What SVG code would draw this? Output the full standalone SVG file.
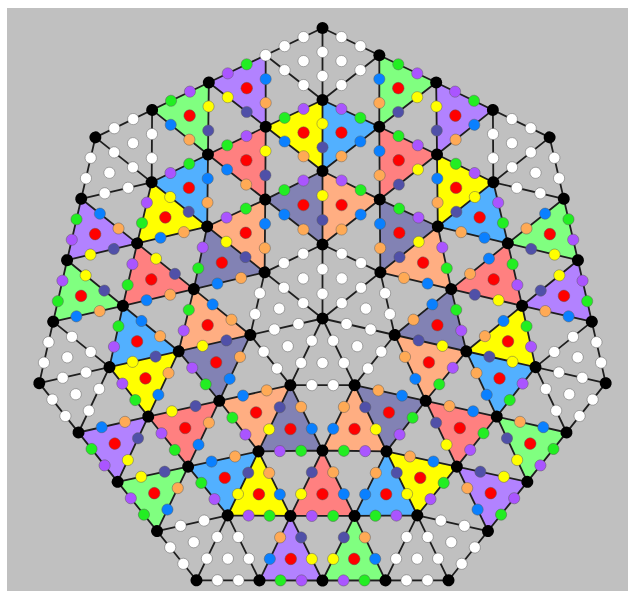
<svg xmlns="http://www.w3.org/2000/svg" width="635" height="597" viewBox="0 0 635 597">
<style>
.ln{fill:none;stroke:#1e1e1e;stroke-width:1.8;stroke-linejoin:round}
.v{fill:#000}
circle.d{stroke:#5a5a5a;stroke-opacity:0.55;stroke-width:0.8}
.dp{fill:#aa55ff}.dg{fill:#22ee22}.db{fill:#0a80ff}.do{fill:#ffaa55}.ds{fill:#5050a8}.dy{fill:#ffff00}.dr{fill:#ff0000}.dw{fill:#ffffff}
.tp{fill:#b282ff}.ty{fill:#ffff00}.tb{fill:#52b0ff}.tg{fill:#80ff80}.ts{fill:#ff8080}.tl{fill:#8282b4}.tc{fill:#ffae82}
</style>
<defs>
<g id="fills0">
<polygon class="tp" points="208.82,82.45 265.66,55.23 265.70,126.74"/>
<polygon class="ty" points="322.5,100 265.70,126.74 322.5,171"/>
<polygon class="tb" points="322.5,100 379.30,126.74 322.5,171"/>
<polygon class="tg" points="436.18,82.45 379.34,55.23 379.30,126.74"/>
<polygon class="ts" points="265.70,126.74 207.99,154.53 265.23,199.57"/>
<polygon class="tl" points="322.5,171 265.23,199.57 322.5,244.5"/>
<polygon class="tc" points="322.5,171 379.77,199.57 322.5,244.5"/>
</g>
<path id="edges0" class="ln" d="M322.5 318.5V28M380.36 272.36L322.5 244.5L265.23 199.57M322.5 244.5L379.77 199.57M265.23 199.57L322.5 171L379.77 199.57M265.70 126.74L322.5 171L379.30 126.74M379.77 199.57L379.30 126.74L379.34 55.23M265.23 199.57L265.70 126.74L265.66 55.23M208.82 82.45L265.70 126.74L322.5 100L379.30 126.74L436.18 82.45M207.99 154.53L265.70 126.74M265.66 55.23L322.5 100L379.34 55.23M208.82 82.45L322.5 28L436.18 82.45"/>
<g id="dots0">
<g id="purpleTri">
<circle class="d dp" cx="227.77" cy="73.38" r="5.6"/><circle class="d dg" cx="246.71" cy="64.31" r="5.6"/><circle class="d db" cx="265.67" cy="79.07" r="5.6"/><circle class="d do" cx="265.69" cy="102.90" r="5.6"/><circle class="d ds" cx="246.74" cy="111.98" r="5.6"/><circle class="d dy" cx="227.78" cy="97.22" r="5.6"/><circle class="d dr" cx="246.73" cy="88.14" r="5.8"/>
</g>
<g id="yellowTri">
<circle class="d dp" cx="303.57" cy="108.91" r="5.6"/><circle class="d dg" cx="284.63" cy="117.83" r="5.6"/><circle class="d db" cx="284.63" cy="141.49" r="5.6"/><circle class="d do" cx="303.57" cy="156.25" r="5.6"/><circle class="d ds" cx="322.5" cy="147.33" r="5.6"/><circle class="d dy" cx="322.5" cy="123.67" r="5.6"/><circle class="d dr" cx="303.57" cy="132.58" r="5.8"/>
</g>
<g id="blueTri">
<circle class="d dp" cx="341.43" cy="108.91" r="5.6"/><circle class="d dg" cx="360.37" cy="117.83" r="5.6"/><circle class="d db" cx="360.37" cy="141.49" r="5.6"/><circle class="d do" cx="341.43" cy="156.25" r="5.6"/><circle class="d dr" cx="341.43" cy="132.58" r="5.8"/>
</g>
<g id="greenTri">
<circle class="d dp" cx="417.23" cy="73.38" r="5.6"/><circle class="d dg" cx="398.29" cy="64.31" r="5.6"/><circle class="d db" cx="379.33" cy="79.07" r="5.6"/><circle class="d do" cx="379.31" cy="102.90" r="5.6"/><circle class="d ds" cx="398.26" cy="111.98" r="5.6"/><circle class="d dy" cx="417.22" cy="97.22" r="5.6"/><circle class="d dr" cx="398.27" cy="88.14" r="5.8"/>
</g>
<g id="salmonTri">
<circle class="d dp" cx="246.46" cy="136.00" r="5.6"/><circle class="d dg" cx="227.23" cy="145.27" r="5.6"/><circle class="d db" cx="227.07" cy="169.54" r="5.6"/><circle class="d do" cx="246.15" cy="184.56" r="5.6"/><circle class="d ds" cx="265.39" cy="175.29" r="5.6"/><circle class="d dy" cx="265.54" cy="151.02" r="5.6"/><circle class="d dr" cx="246.31" cy="160.28" r="5.8"/>
</g>
<g id="slateTri">
<circle class="d dp" cx="303.41" cy="180.52" r="5.6"/><circle class="d dg" cx="284.32" cy="190.05" r="5.6"/><circle class="d db" cx="284.32" cy="214.55" r="5.6"/><circle class="d do" cx="303.41" cy="229.52" r="5.6"/><circle class="d ds" cx="322.5" cy="220" r="5.6"/><circle class="d dy" cx="322.5" cy="195.5" r="5.6"/><circle class="d dr" cx="303.41" cy="205.02" r="5.8"/>
</g>
<g id="peachTri">
<circle class="d dp" cx="341.59" cy="180.52" r="5.6"/><circle class="d dg" cx="360.68" cy="190.05" r="5.6"/><circle class="d db" cx="360.68" cy="214.55" r="5.6"/><circle class="d do" cx="341.59" cy="229.52" r="5.6"/><circle class="d dr" cx="341.59" cy="205.02" r="5.8"/>
</g>
<g id="whiteTris">
<circle class="d dw" cx="322.5" cy="293.83" r="5.6"/><circle class="d dw" cx="322.5" cy="269.17" r="5.6"/><circle class="d dw" cx="341.79" cy="253.79" r="5.6"/><circle class="d dw" cx="361.07" cy="263.07" r="5.6"/><circle class="d dw" cx="341.79" cy="278.45" r="5.6"/>
<circle class="d dw" cx="284.61" cy="46.15" r="5.6"/><circle class="d dw" cx="303.55" cy="37.08" r="5.6"/><circle class="d dw" cx="322.5" cy="52" r="5.6"/><circle class="d dw" cx="322.5" cy="76" r="5.6"/><circle class="d dw" cx="303.55" cy="85.08" r="5.6"/><circle class="d dw" cx="284.61" cy="70.15" r="5.6"/><circle class="d dw" cx="303.55" cy="61.08" r="5.6"/>
<circle class="d dw" cx="360.39" cy="46.15" r="5.6"/><circle class="d dw" cx="341.45" cy="37.08" r="5.6"/><circle class="d dw" cx="341.45" cy="85.08" r="5.6"/><circle class="d dw" cx="360.39" cy="70.15" r="5.6"/><circle class="d dw" cx="341.45" cy="61.08" r="5.6"/>
</g>
</g>
<g id="verts0" class="v">
<circle cx="322.5" cy="244.5" r="6"/><circle cx="322.5" cy="171" r="6"/><circle cx="379.77" cy="199.57" r="6"/><circle cx="265.70" cy="126.74" r="6"/><circle cx="379.30" cy="126.74" r="6"/><circle cx="322.5" cy="100" r="6"/><circle cx="322.5" cy="28" r="6"/><circle cx="379.34" cy="55.23" r="6"/><circle cx="436.18" cy="82.45" r="6"/>
</g>
<circle id="kv" class="v" cx="265.66" cy="55.23" r="6"/>
</defs>
<rect x="0" y="0" width="635" height="597" fill="#ffffff"/>
<rect x="7" y="8" width="621" height="583" fill="#c0c0c0"/>
<g id="faces">
<use href="#fills0"/>
<use href="#fills0" transform="rotate(51.428571 322.5 318.5)"/>
<use href="#fills0" transform="rotate(102.857143 322.5 318.5)"/>
<use href="#fills0" transform="rotate(154.285714 322.5 318.5)"/>
<use href="#fills0" transform="rotate(205.714286 322.5 318.5)"/>
<use href="#fills0" transform="rotate(257.142857 322.5 318.5)"/>
<use href="#fills0" transform="rotate(308.571429 322.5 318.5)"/>
</g>
<g id="connectors">
<use href="#edges0"/>
<use href="#edges0" transform="rotate(51.428571 322.5 318.5)"/>
<use href="#edges0" transform="rotate(102.857143 322.5 318.5)"/>
<use href="#edges0" transform="rotate(154.285714 322.5 318.5)"/>
<use href="#edges0" transform="rotate(205.714286 322.5 318.5)"/>
<use href="#edges0" transform="rotate(257.142857 322.5 318.5)"/>
<use href="#edges0" transform="rotate(308.571429 322.5 318.5)"/>
</g>
<g id="edge-dots">
<use href="#dots0"/>
<use href="#dots0" transform="rotate(51.428571 322.5 318.5)"/>
<use href="#dots0" transform="rotate(102.857143 322.5 318.5)"/>
<use href="#dots0" transform="rotate(154.285714 322.5 318.5)"/>
<use href="#dots0" transform="rotate(205.714286 322.5 318.5)"/>
<use href="#dots0" transform="rotate(257.142857 322.5 318.5)"/>
<use href="#dots0" transform="rotate(308.571429 322.5 318.5)"/>
</g>
<g id="vertices">
<use href="#verts0"/>
<use href="#verts0" transform="rotate(51.428571 322.5 318.5)"/>
<use href="#verts0" transform="rotate(102.857143 322.5 318.5)"/>
<use href="#verts0" transform="rotate(154.285714 322.5 318.5)"/>
<use href="#verts0" transform="rotate(205.714286 322.5 318.5)"/>
<use href="#verts0" transform="rotate(257.142857 322.5 318.5)"/>
<use href="#verts0" transform="rotate(308.571429 322.5 318.5)"/>
<use href="#kv" transform="rotate(51.428571 322.5 318.5)"/>
<use href="#kv" transform="rotate(102.857143 322.5 318.5)"/>
<use href="#kv" transform="rotate(154.285714 322.5 318.5)"/>
<use href="#kv" transform="rotate(205.714286 322.5 318.5)"/>
<use href="#kv" transform="rotate(257.142857 322.5 318.5)"/>
<use href="#kv" transform="rotate(308.571429 322.5 318.5)"/>
<circle id="center" class="v" cx="322.5" cy="318.5" r="6"/>
<circle id="top-white-vertex" class="d dw" cx="265.66" cy="55.23" r="5.8"/>
</g>
</svg>
